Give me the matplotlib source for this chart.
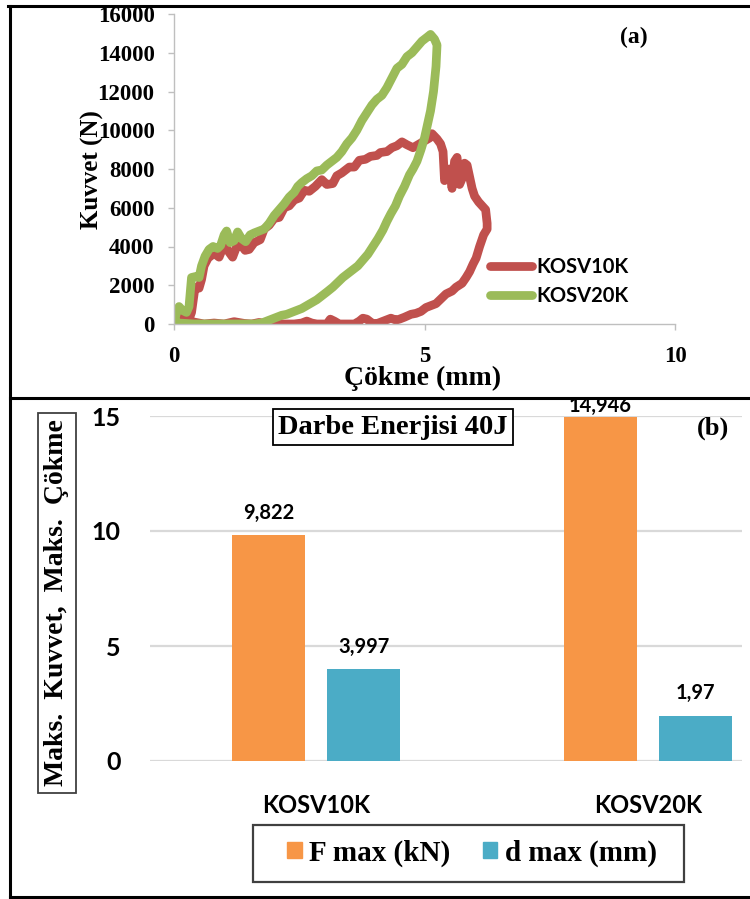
import numpy as np
import matplotlib.pyplot as plt
from matplotlib.lines import Line2D
from matplotlib.patches import Patch, Rectangle

# (a) force-displacement curves, displacement in mm, force in N
kosv10k_d = [0.00, 0.05, 0.10, 0.20, 0.30, 0.35, 0.42, 0.50, 0.55, 0.60, 0.68, 0.80, 0.90,
             1.00, 1.10, 1.17, 1.25, 1.32, 1.42, 1.50, 1.60, 1.72, 1.80, 1.90, 2.00, 2.10,
             2.20, 2.30, 2.40, 2.50, 2.60, 2.70, 2.82, 2.95, 3.05, 3.17, 3.25, 3.35, 3.50,
             3.60, 3.70, 3.82, 3.92, 4.05, 4.12, 4.25, 4.35, 4.45, 4.55, 4.65, 4.77, 4.90,
             5.00, 5.10, 5.15, 5.25, 5.32, 5.37, 5.40, 5.45, 5.50, 5.55, 5.60, 5.65, 5.70,
             5.75, 5.80, 5.85, 5.90, 5.95, 6.00, 6.08, 6.15, 6.22, 6.25, 6.25, 6.18,
             6.10, 6.03, 5.97, 5.90, 5.83, 5.75, 5.63, 5.55, 5.43, 5.33, 5.23, 5.13, 5.03,
             4.93, 4.83, 4.73, 4.60, 4.50, 4.43, 4.33, 4.23, 4.13, 4.03, 3.95, 3.85, 3.77,
             3.70, 3.60, 3.45, 3.30, 3.20, 3.12, 3.05, 2.85, 2.75, 2.65, 2.55, 2.40, 2.20,
             2.00, 1.85, 1.70, 1.55, 1.40, 1.20, 1.00, 0.80, 0.60, 0.40, 0.25, 0.10, 0.00]
kosv10k_f = [0, 400, 700, 400, 250, 600, 1900, 1850, 2300, 3000, 3400, 3650, 3450,
             4100, 3700, 3450, 4000, 4150, 3800, 3850, 4200, 4350, 4900, 5100, 5450, 5500,
             6000, 6100, 6400, 6500, 6900, 6850, 7100, 7450, 7200, 7250, 7650, 7800, 8100,
             8100, 8450, 8500, 8650, 8700, 8850, 8900, 9100, 9200, 9400, 9250, 9100, 9300,
             9450, 9600, 9822, 9550, 9300, 8900, 7400, 7700, 8000, 7000, 8400, 8600, 7200,
             7500, 8300, 8200, 7600, 7000, 6600, 6300, 6100, 5900, 5200, 4900, 4600,
             4000, 3400, 3100, 2700, 2400, 2100, 1900, 1700, 1550, 1300, 1050, 950, 850,
             650, 550, 500, 350, 250, 200, 300, 200, 100, 0, 50, 250, 300,
             150, 0, 0, 0, 150, 250, 0, 0, 50, 150, 50, 0, 0,
             50, 0, 80, 0, 30, 120, 0, 50, 0, 100, 150, 100, 0]

kosv20k_d = [0.00, 0.05, 0.10, 0.17, 0.25, 0.30, 0.35, 0.43, 0.50, 0.55, 0.62, 0.70, 0.78,
             0.87, 0.93, 1.00, 1.05, 1.12, 1.20, 1.27, 1.35, 1.43, 1.52, 1.60, 1.70, 1.80,
             1.90, 2.00, 2.10, 2.20, 2.30, 2.40, 2.47, 2.55, 2.65, 2.75, 2.85, 2.95, 3.05,
             3.15, 3.25, 3.35, 3.45, 3.55, 3.65, 3.75, 3.85, 3.95, 4.05, 4.15, 4.25, 4.35,
             4.45, 4.55, 4.65, 4.75, 4.85, 4.95, 5.05, 5.12, 5.20, 5.25,
             5.23, 5.18, 5.12, 5.06, 5.00, 4.93, 4.85, 4.77, 4.70, 4.60, 4.50, 4.42, 4.33,
             4.25, 4.17, 4.07, 3.97, 3.87, 3.77, 3.67, 3.57, 3.47, 3.37, 3.27, 3.17, 3.05,
             2.95, 2.85, 2.75, 2.65, 2.55, 2.45, 2.35, 2.25, 2.15, 2.05, 1.95, 1.85, 1.75,
             1.60, 1.20, 0.80, 0.40, 0.10, 0.00]
kosv20k_f = [0, 600, 900, 700, 600, 900, 2400, 2450, 2400, 3000, 3500, 3850, 4000,
             3900, 4050, 4600, 4800, 4200, 4300, 4750, 4400, 4250, 4600, 4700, 4800, 4900,
             5200, 5600, 5900, 6200, 6550, 6800, 7100, 7300, 7500, 7650, 7900, 7950, 8200,
             8400, 8600, 8900, 9300, 9600, 10000, 10500, 10900, 11300, 11600, 11800, 12200, 12700,
             13200, 13400, 13800, 14000, 14300, 14600, 14800, 14946, 14700, 14400,
             13300, 12000, 11000, 10300, 9600, 9000, 8400, 8000, 7700, 7100, 6600, 6100, 5700,
             5300, 4850, 4400, 4000, 3600, 3300, 3000, 2800, 2600, 2400, 2150, 1900, 1650,
             1450, 1250, 1100, 950, 800, 700, 600, 500, 450, 350, 250, 150, 50,
             0, 0, 0, 0, 50, 0]

# (b) peak values per specimen
specimens = ["KOSV10K", "KOSV20K"]
f_max_kn = [9.822, 14.946]
d_max_mm = [3.997, 1.97]

RED = "#C0504D"
GREEN = "#9BBB59"
ORANGE = "#F79646"
TEAL = "#4BACC6"
AXIS_GREY = "#BFBFBF"
SERIF = "Liberation Serif"
SANS = "Lato"

W, H = 750, 899
fig = plt.figure(figsize=(W / 100, H / 100), dpi=100)


def fx(px):
    return px / W


def fy(py):
    return 1 - py / H


# ---- panel (a) ----
axA = fig.add_axes([fx(174), fy(324), (675 - 174) / W, (324 - 14) / H])
axA.plot(kosv10k_d, kosv10k_f, color=RED, lw=6.3, solid_joinstyle="round",
         solid_capstyle="round", label="KOSV10K")
axA.plot(kosv20k_d, kosv20k_f, color=GREEN, lw=6.3, solid_joinstyle="round",
         solid_capstyle="round", label="KOSV20K")
axA.set_xlim(0, 10)
axA.set_ylim(0, 16000)
axA.set_xticks([0, 5, 10])
axA.set_yticks(np.arange(0, 16001, 2000))
for s in ("top", "right"):
    axA.spines[s].set_visible(False)
for s in ("left", "bottom"):
    axA.spines[s].set_color(AXIS_GREY)
    axA.spines[s].set_linewidth(1.0)
axA.tick_params(axis="both", direction="out", length=4, color=AXIS_GREY, width=1.0)
axA.tick_params(axis="y", pad=10)
axA.tick_params(axis="x", pad=12)
for lab in axA.get_xticklabels() + axA.get_yticklabels():
    lab.set_fontfamily(SERIF)
    lab.set_fontweight("bold")
    lab.set_fontsize(16.5)

fig.text(fx(92), fy(170), "Kuvvet (N)", rotation=90, ha="center", va="center",
         family=SERIF, weight="bold", fontsize=18)
fig.text(fx(423), fy(378), "Çökme (mm)", ha="center", va="center",
         family=SERIF, weight="bold", fontsize=20)
fig.text(fx(634), fy(37), "(a)", ha="center", va="center",
         family=SERIF, weight="bold", fontsize=17)

axA.legend(loc="upper left", bbox_to_anchor=(fx(490), fy(257)),
           bbox_transform=fig.transFigure, frameon=False,
           prop=dict(family=SANS, weight="bold", size=14.5),
           handlelength=2.1, handletextpad=0.2, labelspacing=0.45,
           borderpad=0, borderaxespad=0)

# ---- panel (b) ----
axB = fig.add_axes([fx(150), fy(761), (742 - 150) / W, (761 - 416) / H])
x = np.arange(len(specimens))
bw = 0.22
off = 0.143
bars_f = axB.bar(x - off, f_max_kn, bw, color=ORANGE, label="F max (kN)", zorder=3)
bars_d = axB.bar(x + off, d_max_mm, bw, color=TEAL, label="d max (mm)", zorder=3)
axB.set_xlim(-0.5, 1.283)
axB.set_ylim(0, 15)
axB.set_yticks([0, 5, 10, 15])
axB.set_xticks(x)
axB.set_xticklabels(specimens)
axB.grid(axis="y", color="#D9D9D9", lw=1.6, zorder=0)
for s in axB.spines.values():
    s.set_visible(False)
axB.tick_params(axis="both", length=0)
axB.tick_params(axis="y", pad=21)
axB.tick_params(axis="x", pad=24)
for lab in axB.get_yticklabels():
    lab.set_fontfamily(SANS)
    lab.set_fontweight("bold")
    lab.set_fontsize(18)
for lab in axB.get_xticklabels():
    lab.set_fontfamily(SANS)
    lab.set_fontweight("bold")
    lab.set_fontsize(17)


def comma(v):
    return f"{v:g}".replace(".", ",")


label_gap = {(0, 0): 9, (0, 1): 9, (1, 0): 1, (1, 1): 9}
for j, bars in enumerate((bars_f, bars_d)):
    for i, b in enumerate(bars):
        axB.annotate(comma(b.get_height()), (b.get_x() + b.get_width() / 2, b.get_height()),
                     xytext=(0, label_gap[(i, j)]), textcoords="offset points",
                     ha="center", va="bottom", family=SANS, weight="bold",
                     fontsize=14.5, annotation_clip=False)

fig.text(fx(393), fy(427), "Darbe Enerjisi 40J", ha="center", va="center",
         family=SERIF, weight="bold", fontsize=20.5,
         bbox=dict(boxstyle="square,pad=0.2", fc="white", ec="black", lw=1.3))
fig.text(fx(713), fy(428), "(b)", ha="center", va="center",
         family=SERIF, weight="bold", fontsize=19)
fig.text(fx(57), fy(603), "Maks.  Kuvvet,  Maks.  Çökme", rotation=90,
         ha="center", va="center", family=SERIF, weight="bold", fontsize=20,
         bbox=dict(boxstyle="square,pad=0.22", fc="white", ec="#404040", lw=1.3))

# legend box for panel (b)
fig.add_artist(Rectangle((fx(253), fy(882)), (684 - 253) / W, (882 - 825) / H,
                         transform=fig.transFigure, fill=False, ec="#404040", lw=1.6))
handles = [Patch(color=ORANGE, label="F max (kN)"), Patch(color=TEAL, label="d max (mm)")]
fig.legend(handles=handles, loc="center", bbox_to_anchor=(fx(472), fy(853)),
           ncol=2, frameon=False, prop=dict(family=SERIF, weight="bold", size=21),
           handlelength=0.5, handleheight=0.5, handletextpad=0.25,
           columnspacing=1.1, borderpad=0)

# panel frames
frame_kw = dict(color="black", lw=2.2, transform=fig.transFigure)
fig.add_artist(Line2D([fx(8), 1], [fy(6), fy(6)], **frame_kw))
fig.add_artist(Line2D([fx(10), fx(10)], [fy(6), fy(897)], **frame_kw))
fig.add_artist(Line2D([fx(10), 1], [fy(398), fy(398)], **frame_kw))
fig.add_artist(Line2D([fx(10), 1], [fy(897), fy(897)], **frame_kw))

fig.savefig("out.png", dpi=100)
